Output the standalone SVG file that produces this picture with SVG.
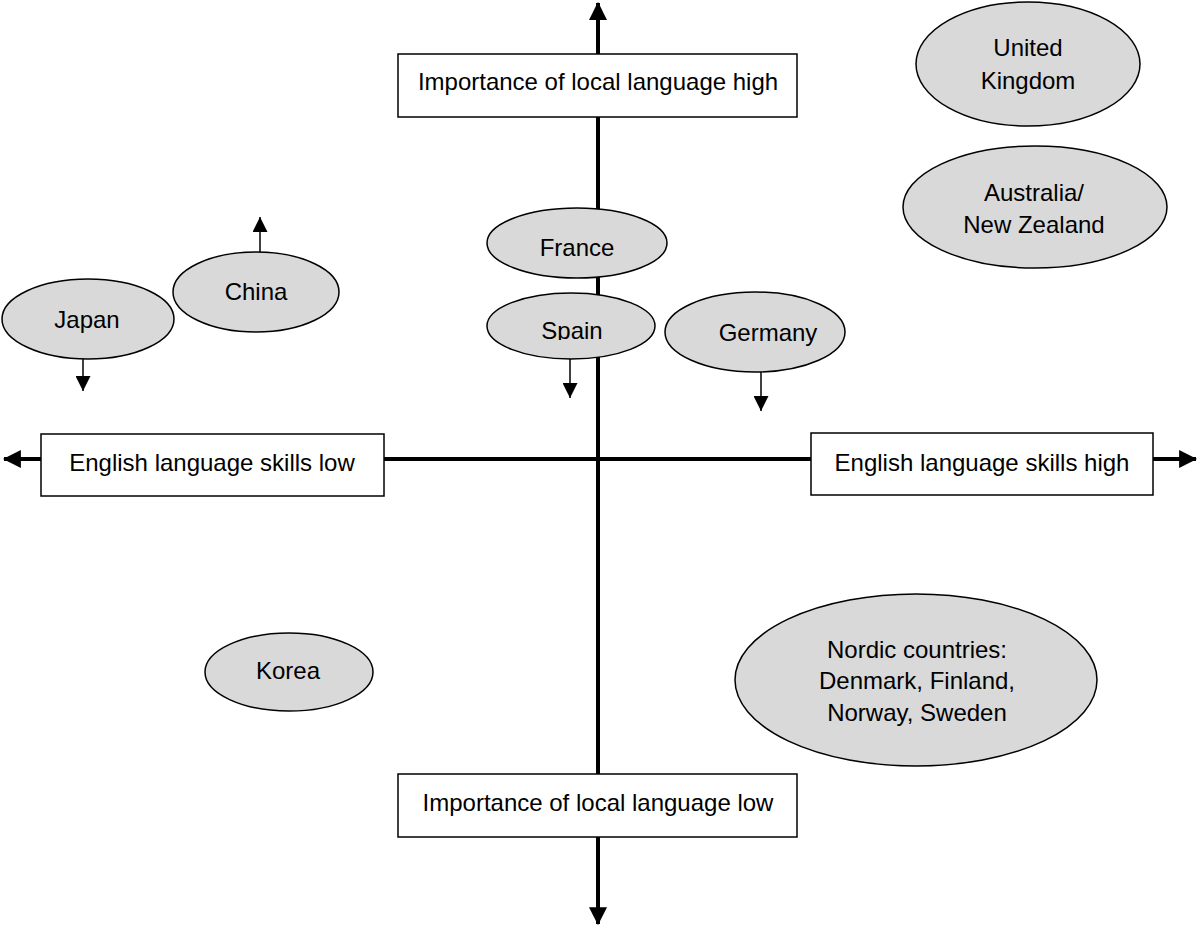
<svg xmlns="http://www.w3.org/2000/svg" width="1199" height="927" viewBox="0 0 1199 927">
<style>
text{font-family:"Liberation Sans",Arial,sans-serif;font-size:24px;fill:#000;text-anchor:middle}
.box{fill:#fff;stroke:#000;stroke-width:1.5}
.ell{fill:#d9d9d9;stroke:#000;stroke-width:1.5}
.axis{stroke:#000;stroke-width:4;fill:none}
.thin{stroke:#000;stroke-width:1.5;fill:none}
</style>
<defs>
<marker id="bigArrow" markerUnits="userSpaceOnUse" markerWidth="18" markerHeight="18" viewBox="0 0 16 16" refX="15" refY="8" orient="auto">
<path d="M0,0 L16,8 L0,16 Z" fill="#000"/>
</marker>
<marker id="smallArrow" markerUnits="userSpaceOnUse" markerWidth="15" markerHeight="15" viewBox="0 0 15 15" refX="15" refY="7.5" orient="auto">
<path d="M0,0 L15,7.5 L0,15 Z" fill="#000"/>
</marker>
<clipPath id="spainClip"><rect x="480" y="290" width="180" height="50"/></clipPath>
</defs>
<g id="connectors">
<line class="axis" x1="598" y1="459" x2="598" y2="3" marker-end="url(#bigArrow)"/>
<line class="axis" x1="598" y1="459" x2="598" y2="924" marker-end="url(#bigArrow)"/>
<line class="axis" x1="598" y1="459" x2="4" y2="459" marker-end="url(#bigArrow)"/>
<line class="axis" x1="598" y1="459" x2="1196" y2="459" marker-end="url(#bigArrow)"/>
<line class="thin" x1="83" y1="359" x2="83" y2="391" marker-end="url(#smallArrow)"/>
<line class="thin" x1="260" y1="252" x2="260" y2="217" marker-end="url(#smallArrow)"/>
<line class="thin" x1="570" y1="359" x2="570" y2="398" marker-end="url(#smallArrow)"/>
<line class="thin" x1="761" y1="372" x2="761" y2="411" marker-end="url(#smallArrow)"/>
</g>
<g id="top-box">
<rect class="box" x="398" y="54" width="399" height="63"/>
<text x="598" y="90">Importance of local language high</text>
</g>
<g id="bottom-box">
<rect class="box" x="398" y="774" width="399" height="63"/>
<text x="598" y="811">Importance of local language low</text>
</g>
<g id="left-box">
<rect class="box" x="41" y="434" width="343" height="62"/>
<text x="212" y="471">English language skills low</text>
</g>
<g id="right-box">
<rect class="box" x="811" y="433" width="342" height="62"/>
<text x="982" y="471">English language skills high</text>
</g>
<g id="uk">
<ellipse class="ell" cx="1028" cy="64" rx="112" ry="62"/>
<text x="1028" y="56">United</text>
<text x="1028" y="89">Kingdom</text>
</g>
<g id="australia">
<ellipse class="ell" cx="1035" cy="207" rx="132" ry="61"/>
<text x="1034" y="201">Australia/</text>
<text x="1034" y="233">New Zealand</text>
</g>
<g id="france">
<ellipse class="ell" cx="577" cy="243" rx="90" ry="35"/>
<text x="577" y="256">France</text>
</g>
<g id="spain">
<ellipse class="ell" cx="571" cy="326" rx="84" ry="33"/>
<text x="572" y="339" clip-path="url(#spainClip)">Spain</text>
</g>
<g id="germany">
<ellipse class="ell" cx="755" cy="332" rx="90" ry="40"/>
<text x="768" y="341">Germany</text>
</g>
<g id="japan">
<ellipse class="ell" cx="88" cy="319" rx="86" ry="40"/>
<text x="87" y="328">Japan</text>
</g>
<g id="china">
<ellipse class="ell" cx="256" cy="292" rx="83" ry="40"/>
<text x="256" y="300">China</text>
</g>
<g id="korea">
<ellipse class="ell" cx="289" cy="672" rx="84" ry="39"/>
<text x="288" y="679">Korea</text>
</g>
<g id="nordic">
<ellipse class="ell" cx="916" cy="680" rx="181" ry="86"/>
<text x="917" y="658">Nordic countries:</text>
<text x="917" y="689">Denmark, Finland,</text>
<text x="917" y="721">Norway, Sweden</text>
</g>
</svg>
